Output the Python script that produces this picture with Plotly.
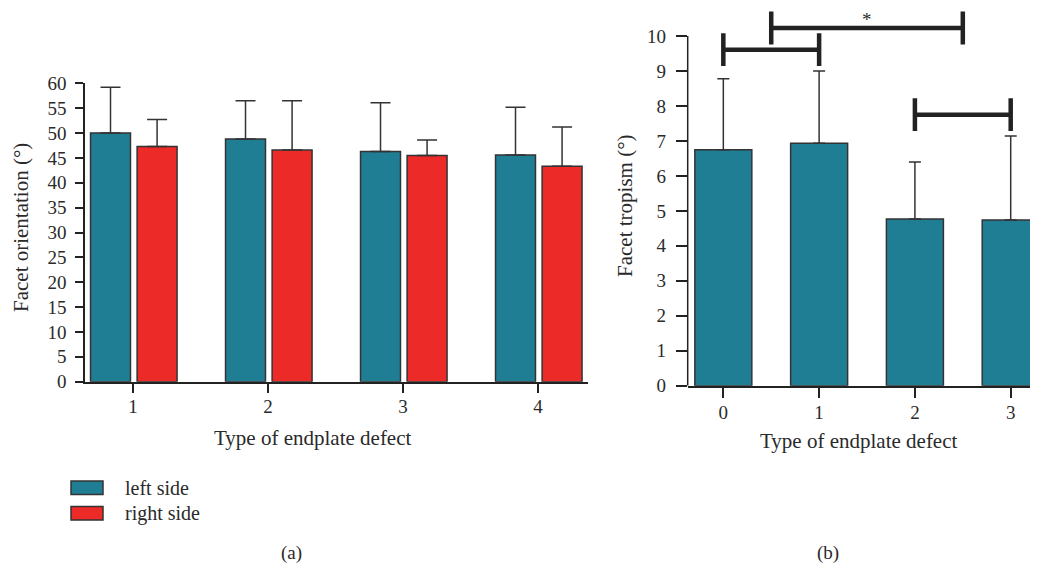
import plotly.graph_objects as go

# ---------------- data ----------------
types_a = [1, 2, 3, 4]
left_side = [50.0, 48.8, 46.3, 45.6]
left_side_err = [9.2, 7.7, 9.8, 9.6]
right_side = [47.3, 46.6, 45.5, 43.3]
right_side_err = [5.4, 9.9, 3.1, 7.9]

types_b = [0, 1, 2, 3]
tropism = [6.75, 6.93, 4.77, 4.74]
tropism_err = [2.03, 2.07, 1.63, 2.40]

bracket_x0 = [0, 0.5, 2]
bracket_x1 = [1, 2.5, 3]
bracket_y = [9.61, 10.23, 7.75]
bracket_labels = ["", "*", ""]

y_ticks_a = list(range(0, 61, 5))
y_ticks_b = list(range(0, 11))

legend_names = ["left side", "right side"]

# ---------------- style ----------------
TEAL = "#207E94"
RED = "#EC2A28"
EDGE = "#333333"
TXT = "#2a2a2a"
FONT = "Liberation Serif"
W, H = 1038, 569
OFF = 8  # page body margin offset


def PX(x):
    return (x - OFF) / W


def PY(y):
    return 1 - (y - OFF) / H


fig = go.Figure()

# panel (a)
fig.add_trace(go.Bar(
    x=types_a, y=left_side, name=legend_names[0], width=0.296, offset=-0.315,
    marker=dict(color=TEAL, line=dict(color=EDGE, width=1.5)),
    error_y=dict(type="data", symmetric=False, array=left_side_err,
                 arrayminus=[0] * 4, color=EDGE, thickness=1.5, width=10),
    xaxis="x", yaxis="y", showlegend=False))
fig.add_trace(go.Bar(
    x=types_a, y=right_side, name=legend_names[1], width=0.296, offset=0.03,
    marker=dict(color=RED, line=dict(color=EDGE, width=1.5)),
    error_y=dict(type="data", symmetric=False, array=right_side_err,
                 arrayminus=[0] * 4, color=EDGE, thickness=1.5, width=10),
    xaxis="x", yaxis="y", showlegend=False))

# panel (b)
fig.add_trace(go.Bar(
    x=types_b, y=tropism, width=0.595,
    marker=dict(color=TEAL, line=dict(color=EDGE, width=1.5)),
    error_y=dict(type="data", symmetric=False, array=tropism_err,
                 arrayminus=[0] * 4, color=EDGE, thickness=1.5, width=6),
    xaxis="x2", yaxis="y2", showlegend=False))

# significance brackets
TICKH = 0.47
for x0, x1, yb, lab in zip(bracket_x0, bracket_x1, bracket_y, bracket_labels):
    fig.add_trace(go.Scatter(
        x=[x0, x0, None, x0, x1, None, x1, x1],
        y=[yb - TICKH, yb + TICKH, None, yb, yb, None, yb - TICKH, yb + TICKH],
        mode="lines", line=dict(color="#222222", width=4.5),
        xaxis="x2", yaxis="y2", showlegend=False, hoverinfo="skip"))
    if lab:
        fig.add_annotation(x=(x0 + x1) / 2, y=1.0, xref="x2", yref="paper",
                           text=lab, showarrow=False, yanchor="top",
                           borderpad=0,
                           font=dict(family=FONT, size=19, color=TXT))

# y axis line of panel (b), only up to 10
fig.add_shape(type="line", xref="x2 domain", yref="y2", x0=0, x1=0,
              y0=0, y1=10, line=dict(color="#222222", width=1.5))

axis_common = dict(showgrid=False, zeroline=False, ticks="outside",
                   tickcolor="#222222", tickwidth=1.5, automargin=False,
                   tickfont=dict(family=FONT, size=19, color=TXT))

Y0B = 385.7  # pixel of 0 in panel b (reference)
fig.update_layout(
    template="none",
    width=W, height=H,
    margin=dict(l=0, r=0, t=0, b=0, pad=0, autoexpand=False),
    paper_bgcolor="white", plot_bgcolor="white",
    barmode="overlay", showlegend=False,
    xaxis=dict(domain=[PX(85), PX(588)], range=[0.644, 4.37],
               tickvals=types_a, ticklen=10, showline=True,
               linecolor="#222222", linewidth=1.5, anchor="y",
               ticklabelstandoff=-3, **axis_common),
    yaxis=dict(domain=[PY(381.7), PY(83.3)], range=[0, 60],
               tickvals=y_ticks_a, ticklen=8, showline=True,
               linecolor="#222222", linewidth=1.5, anchor="x",
               ticklabelstandoff=5, **axis_common),
    xaxis2=dict(domain=[PX(687.7), PX(1038)], range=[-0.372, 3.285],
                tickvals=types_b, ticklen=11, showline=True,
                linecolor="#222222", linewidth=1.5, anchor="y2",
                ticklabelstandoff=-2, **axis_common),
    yaxis2=dict(domain=[PY(Y0B), 1.0], range=[0, (Y0B - OFF) / 34.97],
                tickvals=y_ticks_b, ticklen=11, showline=False, anchor="x2",
                ticklabelstandoff=6, **axis_common),
)


def ann(text, px, py, angle=0, size=21):
    fig.add_annotation(x=PX(px), y=PY(py), xref="paper", yref="paper",
                       text=text, showarrow=False, textangle=angle,
                       xanchor="center", yanchor="middle",
                       font=dict(family=FONT, size=size, color=TXT))


# axis titles
ann("Type of endplate defect", 312.5, 438)
ann("Type of endplate defect", 859, 441)
ann("Facet orientation (°)", 21, 228, angle=-90)
ann("Facet tropism (°)", 625, 206, angle=-90)

# panel labels
ann("(a)", 291, 553, size=19)
ann("(b)", 828, 553, size=19)

# manual legend
for i, (name, col) in enumerate(zip(legend_names, [TEAL, RED])):
    ytop = 481 + i * 25.5
    fig.add_shape(type="rect", xref="paper", yref="paper",
                  x0=PX(71), x1=PX(103), y0=PY(ytop + 13.5), y1=PY(ytop),
                  fillcolor=col, line=dict(color=EDGE, width=1.5))
    fig.add_annotation(x=PX(123), y=PY(ytop + 7), xref="paper", yref="paper",
                       text=name, showarrow=False, xanchor="left", yanchor="middle",
                       font=dict(family=FONT, size=20, color=TXT))

fig.write_html("out.html")
